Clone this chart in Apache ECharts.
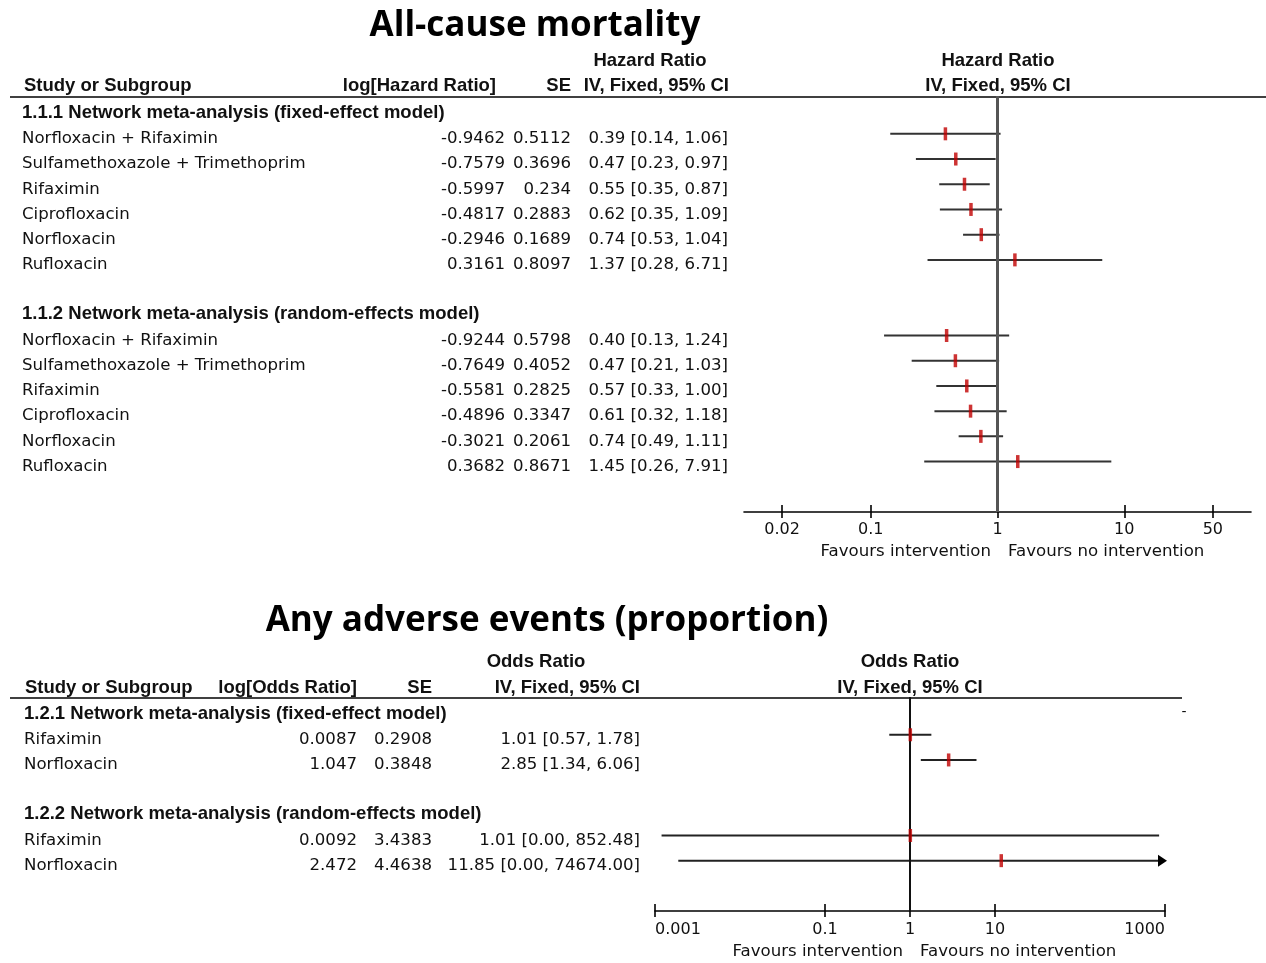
<!DOCTYPE html>
<html><head><meta charset="utf-8">
<script src="https://cdn.jsdelivr.net/npm/echarts@6/dist/echarts.min.js"></script>
<style>html,body{margin:0;padding:0;background:#fff}#c{width:1266px;height:963px}</style>
</head><body><div id="c"></div>
<script>
// ---------- Data: All-cause mortality ----------
const mortTreatments = ['Norfloxacin + Rifaximin','Sulfamethoxazole + Trimethoprim','Rifaximin','Ciprofloxacin','Norfloxacin','Rufloxacin'];
const mortFixedLogHR = [-0.9462,-0.7579,-0.5997,-0.4817,-0.2946,0.3161];
const mortFixedSE    = [0.5112,0.3696,0.234,0.2883,0.1689,0.8097];
const mortFixedHR    = [0.39,0.47,0.55,0.62,0.74,1.37];
const mortFixedLo    = [0.14,0.23,0.35,0.35,0.53,0.28];
const mortFixedHi    = [1.06,0.97,0.87,1.09,1.04,6.71];
const mortRandomLogHR = [-0.9244,-0.7649,-0.5581,-0.4896,-0.3021,0.3682];
const mortRandomSE    = [0.5798,0.4052,0.2825,0.3347,0.2061,0.8671];
const mortRandomHR    = [0.40,0.47,0.57,0.61,0.74,1.45];
const mortRandomLo    = [0.13,0.21,0.33,0.32,0.49,0.26];
const mortRandomHi    = [1.24,1.03,1.00,1.18,1.11,7.91];
const mortTicks = [0.02,0.1,1,10,50];
const mortAxisRange = [0.01,100];
// ---------- Data: Any adverse events ----------
const aeTreatments = ['Rifaximin','Norfloxacin'];
const aeFixedLogOR = [0.0087,1.047];
const aeFixedSE    = [0.2908,0.3848];
const aeFixedOR    = [1.01,2.85];
const aeFixedLo    = [0.57,1.34];
const aeFixedHi    = [1.78,6.06];
const aeRandomLogOR = [0.0092,2.472];
const aeRandomSE    = [3.4383,4.4638];
const aeRandomOR    = [1.01,11.85];
const aeRandomLo    = [0.00,0.00];
const aeRandomHi    = [852.48,74674.00];
const aeTicks = [0.001,0.1,1,10,1000];
const aeAxisRange = [0.001,1000];

// ---------- Styles ----------
const TXT = '#111';
const REG = '16.6px "DejaVu Sans"';
const BOLD = 'bold 18.5px "Liberation Sans"';
const RED = '#c00000';
const DY = 2; // text baseline nudge

function fmtCI(h,l,u){ return h.toFixed(2)+' ['+l.toFixed(2)+', '+u.toFixed(2)+']'; }

function buildRows(sections){
  const rows=[]; let y=0;
  sections.forEach((s,si)=>{
    if(si>0) y++;
    rows.push({y:y, header:s.title}); y++;
    s.names.forEach((n,i)=>{
      rows.push({y:y, name:n, est:s.est[i], se:s.se[i], ci:fmtCI(s.r[i],s.lo[i],s.hi[i])});
      y++;
    });
  });
  return rows;
}
const mortRows = buildRows([
  {title:'1.1.1 Network meta-analysis (fixed-effect model)', names:mortTreatments, est:mortFixedLogHR, se:mortFixedSE, r:mortFixedHR, lo:mortFixedLo, hi:mortFixedHi},
  {title:'1.1.2 Network meta-analysis (random-effects model)', names:mortTreatments, est:mortRandomLogHR, se:mortRandomSE, r:mortRandomHR, lo:mortRandomLo, hi:mortRandomHi}
]);
const aeRows = buildRows([
  {title:'1.2.1 Network meta-analysis (fixed-effect model)', names:aeTreatments, est:aeFixedLogOR, se:aeFixedSE, r:aeFixedOR, lo:aeFixedLo, hi:aeFixedHi},
  {title:'1.2.2 Network meta-analysis (random-effects model)', names:aeTreatments, est:aeRandomLogOR, se:aeRandomSE, r:aeRandomOR, lo:aeRandomLo, hi:aeRandomHi}
]);

const L10 = v => Math.log10(v);
function ciData(rows){
  return rows.filter(r=>!r.header).map(r=>[(r.est-1.96*r.se)/Math.LN10,(r.est+1.96*r.se)/Math.LN10,r.y]);
}
function ptData(rows){
  return rows.filter(r=>!r.header).map(r=>[r.est/Math.LN10,r.y]);
}

function txt(text,x,y,align,font){
  return {type:'text', style:{text:text,x:x,y:y+DY,textAlign:align,align:align,textVerticalAlign:'middle',verticalAlign:'middle',font:font||REG,fill:TXT}};
}
function tableRenderer(rows, cols){
  return function(params, api){
    const r = rows[params.dataIndex];
    const yc = api.coord([0, r.y])[1];
    if(r.header) return txt(r.header, cols.nameX, yc+2, 'left', BOLD);
    return {type:'group', children:[
      txt(r.name, cols.nameX, yc+3, 'left'),
      txt(String(r.est), cols.estR, yc+3, 'right'),
      txt(String(r.se), cols.seR, yc+3, 'right'),
      txt(r.ci, cols.ciR, yc+3, 'right')
    ]};
  };
}
function ciRenderer(xmax, color, width){
  return function(params, api){
    const y = api.value(2);
    const hi = api.value(1);
    const p1 = api.coord([api.value(0), y]);
    const clipped = hi > xmax;
    const p2 = api.coord([clipped ? xmax : hi, y]);
    const children = [{type:'line', shape:{x1:p1[0],y1:p1[1],x2:clipped?p2[0]-6:p2[0],y2:p2[1]}, style:{stroke:color,lineWidth:width}}];
    if(clipped){
      children.push({type:'polygon', shape:{points:[[p2[0]-7,p2[1]-6],[p2[0]+2,p2[1]],[p2[0]-7,p2[1]+6]]}, style:{fill:'#000'}});
    }
    return {type:'group', children:children};
  };
}
function tickLabel(ticks){
  return function(v){
    for(const t of ticks){ if(Math.abs(L10(t)-v)<1e-6) return String(t); }
    return '';
  };
}

function axisPair(grid, range, ticks, alignEnds, margin){
  const vals = ticks.map(L10);
  const main = {
    type:'value', gridIndex:grid, position:'bottom', min:L10(range[0]), max:L10(range[1]),
    splitLine:{show:false},
    axisLine:{show:true, onZero:false, lineStyle:{color:'#000', width:1.6}},
    axisTick:{show:true, inside:false, length:6, customValues:vals, lineStyle:{color:'#000', width:1.6}},
    axisLabel:{show:true, customValues:vals, margin:margin, formatter:tickLabel(ticks), color:TXT, fontFamily:'DejaVu Sans', fontSize:16,
      alignMinLabel: alignEnds ? 'left' : 'center', alignMaxLabel: alignEnds ? 'right' : 'center'}
  };
  const inner = {
    type:'value', gridIndex:grid, position:'bottom', offset:0, min:L10(range[0]), max:L10(range[1]),
    splitLine:{show:false}, axisLine:{show:false, onZero:false}, axisLabel:{show:false},
    axisTick:{show:true, inside:true, length:7, customValues:vals, lineStyle:{color:'#000', width:1.6}}
  };
  return [main, inner];
}

const chart = echarts.init(document.getElementById('c'), null, {renderer:'canvas'});
const xAxes = axisPair(0, mortAxisRange, mortTicks, false, 10).concat(axisPair(1, aeAxisRange, aeTicks, true, 11));

const TITLE = 'bold 35px "Open Sans"';
const graphics = [
  txt('All-cause mortality', 535, 24, 'center', TITLE),
  txt('Any adverse events (proportion)', 547, 619, 'center', TITLE),
  // top headers
  txt('Hazard Ratio', 650, 59, 'center', BOLD),
  txt('Study or Subgroup', 24, 84, 'left', BOLD),
  txt('log[Hazard Ratio]', 496, 84, 'right', BOLD),
  txt('SE', 571, 84, 'right', BOLD),
  txt('IV, Fixed, 95% CI', 729, 84, 'right', BOLD),
  txt('Hazard Ratio', 998, 59, 'center', BOLD),
  txt('IV, Fixed, 95% CI', 998, 84, 'center', BOLD),
  {type:'line', shape:{x1:10,y1:97,x2:1266,y2:97}, style:{stroke:'#000', lineWidth:1.6}},
  txt('Favours intervention', 991, 550, 'right'),
  txt('Favours no intervention', 1008, 550, 'left'),
  // bottom headers
  txt('Odds Ratio', 536, 660, 'center', BOLD),
  txt('Study or Subgroup', 25, 686, 'left', BOLD),
  txt('log[Odds Ratio]', 357, 686, 'right', BOLD),
  txt('SE', 432, 686, 'right', BOLD),
  txt('IV, Fixed, 95% CI', 640, 686, 'right', BOLD),
  txt('Odds Ratio', 910, 660, 'center', BOLD),
  txt('IV, Fixed, 95% CI', 910, 686, 'center', BOLD),
  {type:'line', shape:{x1:10,y1:698,x2:1182,y2:698}, style:{stroke:'#000', lineWidth:1.6}},
  txt('-', 1184, 710, 'center', '14px "DejaVu Sans"'),
  txt('Favours intervention', 903, 950, 'right'),
  txt('Favours no intervention', 920, 950, 'left')
];
graphics.forEach(g=>{ if(g.type==='text' && /Open Sans/.test(g.style.font)) g.style.fill='#000'; });

chart.setOption({
  animation:false,
  backgroundColor:'#fff',
  grid:[
    {left:744, right:15, top:96, height:416},
    {left:655, right:101, top:697, height:214}
  ],
  xAxis: xAxes,
  yAxis:[
    {type:'value', gridIndex:0, min:-0.5, max:16, inverse:true, show:false},
    {type:'value', gridIndex:1, min:-0.5, max:8, inverse:true, show:false}
  ],
  graphic: graphics,
  series:[
    {type:'custom', xAxisIndex:0, yAxisIndex:0, data:mortRows.map(r=>[0,r.y]), renderItem:tableRenderer(mortRows,{nameX:22, estR:505, seR:571, ciR:728}), silent:true},
    {type:'custom', xAxisIndex:0, yAxisIndex:0, data:ciData(mortRows), encode:{x:[0,1], y:2}, renderItem:ciRenderer(L10(mortAxisRange[1]), '#333', 2), silent:true, z:2},
    {type:'line', xAxisIndex:0, yAxisIndex:0, data:[[0,-0.5],[0,16]], symbol:'none', lineStyle:{color:'#555', width:3}, silent:true, z:3},
    {type:'scatter', xAxisIndex:0, yAxisIndex:0, data:ptData(mortRows), symbol:'rect', symbolSize:[3.5,13], itemStyle:{color:RED}, silent:true, z:4},

    {type:'custom', xAxisIndex:2, yAxisIndex:1, data:aeRows.map(r=>[0,r.y]), renderItem:tableRenderer(aeRows,{nameX:24, estR:357, seR:432, ciR:640}), silent:true},
    {type:'custom', xAxisIndex:2, yAxisIndex:1, data:ciData(aeRows), encode:{x:[0,1], y:2}, renderItem:ciRenderer(L10(aeAxisRange[1]), '#222', 2), silent:true, z:2},
    {type:'line', xAxisIndex:2, yAxisIndex:1, data:[[0,-0.5],[0,8]], symbol:'none', lineStyle:{color:'#111', width:2}, silent:true, z:3},
    {type:'scatter', xAxisIndex:2, yAxisIndex:1, data:ptData(aeRows), symbol:'rect', symbolSize:[3.5,13], itemStyle:{color:RED}, silent:true, z:4}
  ]
});
</script>
</body></html>
